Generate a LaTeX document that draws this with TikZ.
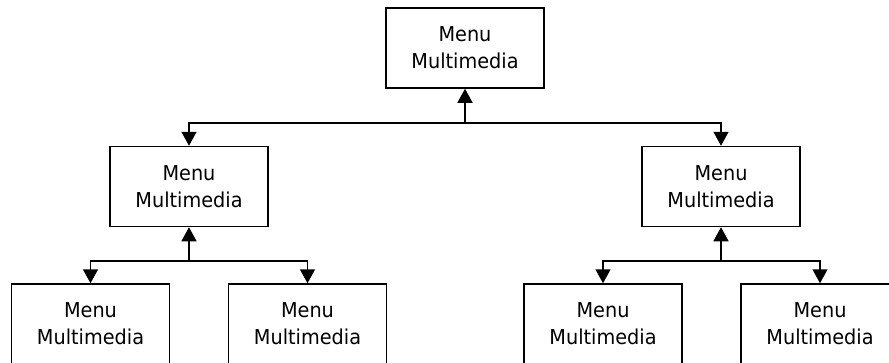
\documentclass[tikz,border=0pt]{standalone}
\usepackage{fontspec}
\setmainfont{DejaVu Sans}[FakeStretch=0.94]
\usepackage{tikz}
\usetikzlibrary{arrows.meta}
\tikzset{
  box/.style={draw=black, line width=1.5pt, minimum width=158pt, minimum height=80pt,
    inner sep=0pt, align=center, font=\fontsize{20.5}{27}\selectfont},
  arr/.style={draw=black, line width=1.5pt, -{Triangle[length=14pt,width=15pt]}}
}

\begin{document}
\begin{tikzpicture}[x=1pt,y=-1pt]
  \useasboundingbox (0,0) rectangle (889,362);

  \node[box] (top)   at (465,48)    {Menu\\Multimedia};
  \node[box] (midL)  at (189,186.5) {Menu\\Multimedia};
  \node[box] (midR)  at (721,186.5) {Menu\\Multimedia};
  \node[box] (botLL) at (90.5,324)  {Menu\\Multimedia};
  \node[box] (botLR) at (307.5,324) {Menu\\Multimedia};
  \node[box] (botRL) at (603,324)   {Menu\\Multimedia};
  \node[box] (botRR) at (820,324)   {Menu\\Multimedia};

  \coordinate (jTop) at (465,123);
  \coordinate (jL) at (189,261);
  \coordinate (jR) at (721,261);

  % top level
  \draw[arr] (jTop) -- (top);
  \draw[arr] (jTop) -| (midL);
  \draw[arr] (jTop) -| (midR);

  % left branch
  \draw[arr] (jL) -- (midL);
  \draw[arr] (jL) -| (botLL);
  \draw[arr] (jL) -| (botLR);

  % right branch
  \draw[arr] (jR) -- (midR);
  \draw[arr] (jR) -| (botRL);
  \draw[arr] (jR) -| (botRR);
\end{tikzpicture}
\end{document}
